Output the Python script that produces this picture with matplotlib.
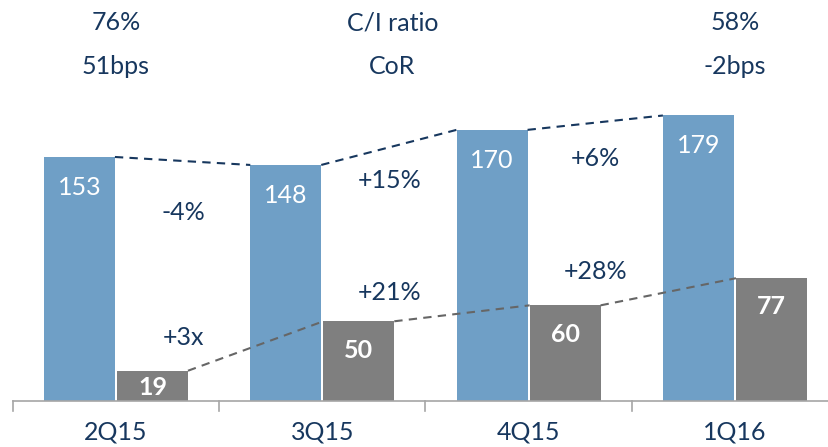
import matplotlib
matplotlib.use("Agg")
import matplotlib.pyplot as plt

# data
quarters = ["2Q15", "3Q15", "4Q15", "1Q16"]
income = [153, 148, 170, 179]
cor_vals = [19, 50, 60, 77]
income_growth = ["-4%", "+15%", "+6%"]
cor_growth = ["+3x", "+21%", "+28%"]
top_left = ["76%", "51bps"]
top_mid = ["C/I ratio", "CoR"]
top_right = ["58%", "-2bps"]

blue = "#6F9FC6"
grey = "#7F7F7F"
navy = "#17375E"
plt.rcParams["font.family"] = ["Lato", "DejaVu Sans"]
fs = 18

fig = plt.figure(figsize=(8.29, 4.47), dpi=100)
ax = fig.add_axes([0, 0, 1, 1])
ax.set_xlim(-0.562, 3.456)
ax.set_ylim(-28.8, 251.4)
ax.axis("off")

w = 0.344
off = 0.177
xs = list(range(len(quarters)))
bx = [x - off for x in xs]
gx = [x + off for x in xs]
ax.bar(bx, income, w, color=blue, zorder=2)
ax.bar(gx, cor_vals, w, color=grey, zorder=2)

# dashed connectors between bar tops
for i in range(len(xs) - 1):
    ax.plot([bx[i] + w / 2, bx[i + 1] - w / 2], [income[i], income[i + 1]],
            ls=(0, (4, 3)), color=navy, lw=1.5, zorder=3)
    ax.plot([gx[i] + w / 2, gx[i + 1] - w / 2], [cor_vals[i], cor_vals[i + 1]],
            ls=(0, (4, 3)), color="#666666", lw=1.5, zorder=3)

# values inside bars
for i in xs:
    ax.text(bx[i], income[i] - 19, str(income[i]), ha="center", va="center",
            color="white", fontsize=fs)
    gy = cor_vals[i] - 18 if cor_vals[i] > 30 else cor_vals[i] / 2 - 1
    ax.text(gx[i], gy, str(cor_vals[i]), ha="center", va="center",
            color="white", fontsize=fs, fontweight="bold")

# growth labels
for i in range(len(xs) - 1):
    yb = [118, 138, 152][i]
    yg = [40, 68, 81][i]
    ax.text(i + 0.325, yb, income_growth[i], ha="center", va="center",
            color=navy, fontsize=fs)
    ax.text(i + 0.325, yg, cor_growth[i], ha="center", va="center",
            color=navy, fontsize=fs)

# header texts
for x, pair in [(0, top_left), (1.34, top_mid), (3, top_right)]:
    ax.text(x, 237, pair[0], ha="center", va="center", color=navy, fontsize=fs)
    ax.text(x, 210, pair[1], ha="center", va="center", color=navy, fontsize=fs)

# x axis line and ticks
ax.plot([-0.5, 3.6], [0, 0], color="#A6A6A6", lw=1.2, clip_on=False, zorder=4)
for t in [-0.5, 0.5, 1.5, 2.5]:
    ax.plot([t, t], [0, -6], color="#A6A6A6", lw=1.2, zorder=4)
for i in xs:
    ax.text(i, -19.5, quarters[i], ha="center", va="center", color=navy, fontsize=fs)

fig.savefig("out.png", dpi=100)
